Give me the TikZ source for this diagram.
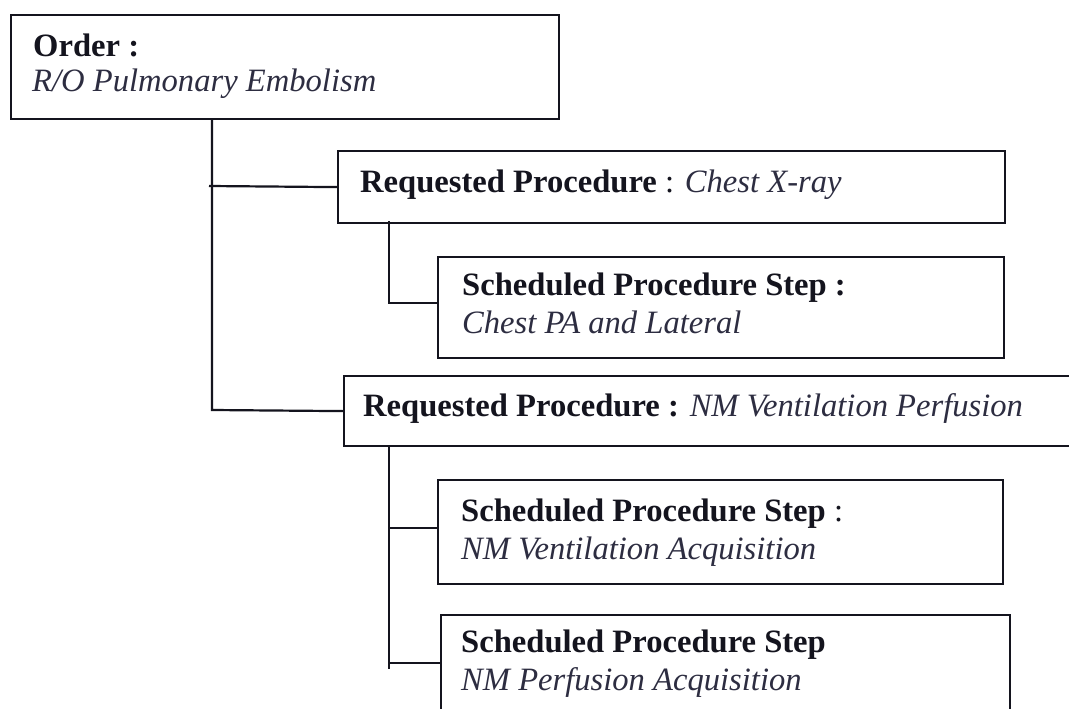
\documentclass[tikz,border=0pt]{standalone}
\usepackage{fontspec}
\setmainfont{Liberation Serif}
\definecolor{ink}{RGB}{20,20,30}
\definecolor{valink}{RGB}{45,45,65}
\begin{document}
\begin{tikzpicture}[x=1pt,y=-1pt,
  box/.style={draw=ink, line width=2.2pt, rectangle, inner sep=0pt, anchor=north west},
  lbl/.style={anchor=base west, inner sep=0pt, text=ink, font=\fontsize{32.6}{38}\selectfont},
  link/.style={draw=ink, line width=2.2pt}]
\clip (0,0) rectangle (1069,709);
\fill[white] (0,0) rectangle (1069,709);

% boxes
\node[box, minimum width=548pt, minimum height=104pt] (order) at (10,14) {};
\node[box, minimum width=667pt, minimum height=72pt]  (rp1)   at (337,150) {};
\node[box, minimum width=566pt, minimum height=101pt] (sps1)  at (437,256) {};
\node[box, minimum width=760pt, minimum height=70pt]  (rp2)   at (343,375) {};
\node[box, minimum width=565pt, minimum height=104pt] (sps2)  at (437,479) {};
\node[box, minimum width=569pt, minimum height=130pt] (sps3)  at (440,614) {};

% texts
\node[lbl] (t-order)  at (33,57)  {\textbf{Order :}};
\node[lbl] (v-order)  at (32,92)  {\textit{\textcolor{valink}{R/O Pulmonary Embolism}}};
\node[lbl] (t-rp1)    at (360,192) {\textbf{Requested Procedure} : \textit{\textcolor{valink}{Chest X-ray}}};
\node[lbl] (t-sps1)   at (462,295) {\textbf{Scheduled Procedure Step :}};
\node[lbl] (v-sps1)   at (462,333) {\textit{\textcolor{valink}{Chest PA and Lateral}}};
\node[lbl] (t-rp2)    at (363,416) {\textbf{Requested Procedure :} \textit{\textcolor{valink}{NM Ventilation Perfusion}}};
\node[lbl] (t-sps2)   at (461,521) {\textbf{Scheduled Procedure Step} :};
\node[lbl] (v-sps2)   at (461,559) {\textit{\textcolor{valink}{NM Ventilation Acquisition}}};
\node[lbl] (t-sps3)   at (461,652) {\textbf{Scheduled Procedure Step}};
\node[lbl] (v-sps3)   at (461,690) {\textit{\textcolor{valink}{NM Perfusion Acquisition}}};

% junction points of the tree
\coordinate (k1) at (212,186);
\coordinate (k2) at (212,410);
\coordinate (s1) at (389,303);
\coordinate (s2) at (389,528);
\coordinate (s3) at (389,663);
\coordinate (s3end) at (389,669);

% order -> requested procedures
\draw[link] (k1 |- order.south) -- (k2) -- (rp2.west);
\draw[link] ([xshift=-3pt]k1) -- (rp1.west);
% requested procedure 1 -> step
\draw[link] ([yshift=3pt]s1 |- rp1.south) -- (s1) -- (s1 -| sps1.west);
% requested procedure 2 -> steps
\draw[link] (s2 |- rp2.south) -- (s3end);
\draw[link] (s2) -- (s2 -| sps2.west);
\draw[link] (s3) -- (s3 -| sps3.west);
\end{tikzpicture}
\end{document}
